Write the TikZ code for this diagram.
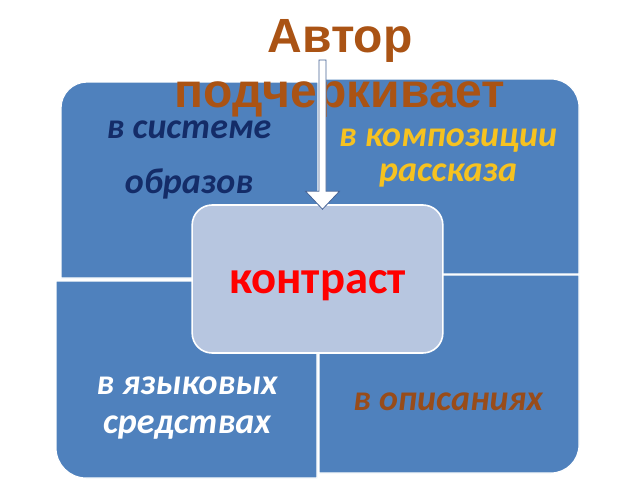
\documentclass[tikz,border=0pt]{standalone}
\usepackage{fontspec}
\setmainfont{Carlito}
\newfontfamily\titlefont{Liberation Sans}
\usetikzlibrary{calc}
\definecolor{quadblue}{RGB}{79,129,189}
\definecolor{boxblue}{RGB}{183,198,224}
\definecolor{navytext}{RGB}{20,44,104}
\definecolor{goldtext}{RGB}{246,194,32}
\definecolor{rusttext}{RGB}{152,76,26}
\definecolor{titlebrown}{RGB}{170,83,20}
\definecolor{arrowedge}{RGB}{72,100,150}

\begin{document}
\begin{tikzpicture}[x=0.75pt, y=-0.75pt,
  quad/.style={fill=quadblue, draw=white, line width=0.9pt},
  quadtext/.style={align=center, anchor=base, inner sep=0pt, font=\bfseries\itshape\fontsize{27}{29}\selectfont},
  centerbox/.style={rounded corners=15pt, fill=boxblue, draw=white, line width=1.2pt, minimum width=188pt, minimum height=111pt, text height=30pt, text depth=9pt, text=red, font=\bfseries\fontsize{35}{40}\selectfont},
  blockarrow/.style={fill=white, draw=arrowedge, line width=0.6pt, line join=miter}]
\useasboundingbox (0,0) rectangle (640,480);
\fill[white] (0,0) rectangle (640,480);
\path[quad] (61,278) -- (61,108) arc[start angle=180, end angle=270, radius=26] -- (318,82) -- (318,278) -- cycle;
\path[quad] (319,274) -- (319,79) -- (551,79) arc[start angle=270, end angle=360, radius=28] -- (579,274) -- cycle;
\path[quad] (56,281) -- (317,281) -- (317,478) -- (86,478) arc[start angle=90, end angle=180, radius=30] -- cycle;
\path[quad] (319,275) -- (579,275) -- (579,445) arc[start angle=0, end angle=90, radius=28] -- (319,473) -- cycle;
\node (system) [quadtext, text=navytext, font=\bfseries\itshape\fontsize{27}{41}\selectfont] at (189,193) {в системе\\образов};
\node (composition) [quadtext, text=goldtext, font=\bfseries\itshape\fontsize{27}{26}\selectfont] at (448,181) {в композиции\\рассказа};
\node (language) [quadtext, text=white] at (187,433) {в языковых\\средствах};
\node (description) [quadtext, text=rusttext] at (448,410) {в описаниях};
\node (contrast) [centerbox] at (317.5,279) {контраст};
\node (author) [align=center, anchor=base, inner sep=0pt, text=titlebrown, font=\titlefont\bfseries\fontsize{36}{41}\selectfont] at (340,107) {Автор\\подчеркивает};
\coordinate (arrowtop) at (322.5,60);
\coordinate (arrowtip) at ($(contrast.north)+(5,5)$);
\draw[blockarrow] ($(arrowtop)+(-3.5,0)$) -- ($(arrowtop)+(3.5,0)$) -- ($(arrowtip)+(3.5,-18)$) -- ($(arrowtip)+(17,-18)$) -- (arrowtip) -- ($(arrowtip)+(-17,-18)$) -- ($(arrowtip)+(-3.5,-18)$) -- cycle;
\end{tikzpicture}
\end{document}
